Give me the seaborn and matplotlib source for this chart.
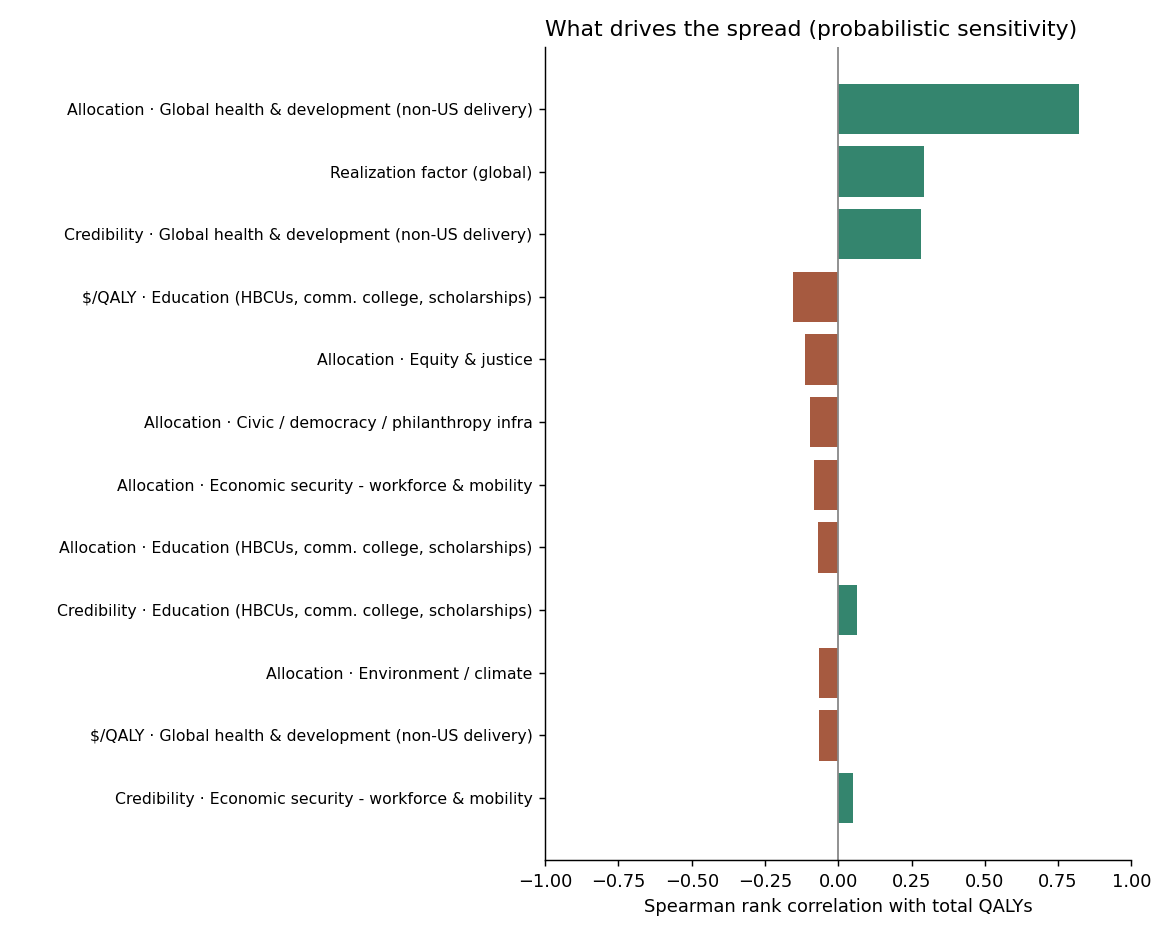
import pandas as pd
import seaborn as sns
import matplotlib
matplotlib.use("Agg")
import matplotlib.pyplot as plt

# Drivers and their rank correlations
drivers = [
    "Allocation · Global health & development (non-US delivery)",
    "Realization factor (global)",
    "Credibility · Global health & development (non-US delivery)",
    "$/QALY · Education (HBCUs, comm. college, scholarships)",
    "Allocation · Equity & justice",
    "Allocation · Civic / democracy / philanthropy infra",
    "Allocation · Economic security - workforce & mobility",
    "Allocation · Education (HBCUs, comm. college, scholarships)",
    "Credibility · Education (HBCUs, comm. college, scholarships)",
    "Allocation · Environment / climate",
    "$/QALY · Global health & development (non-US delivery)",
    "Credibility · Economic security - workforce & mobility",
]
rho = [0.821, 0.292, 0.282, -0.155, -0.114, -0.097, -0.083, -0.069, 0.064, -0.066, -0.066, 0.050]

pos_color = "#34856e"
neg_color = "#a65a40"

df = pd.DataFrame({"driver": drivers, "rho": rho})
df["sign"] = ["pos" if r > 0 else "neg" for r in df["rho"]]

plt.rcParams["font.family"] = ["DejaVu Sans"]

fig, ax = plt.subplots(figsize=(9, 7.2), dpi=130)
fig.subplots_adjust(left=0.466, right=0.967, top=0.950, bottom=0.081)

sns.barplot(data=df, y="driver", x="rho", hue="sign",
            palette={"pos": pos_color, "neg": neg_color},
            dodge=False, legend=False, width=0.8, saturation=1, ax=ax)

ax.axvline(0, color="#888888", linewidth=1)
ax.set_xlim(-1, 1)
ax.set_ylim(len(drivers) - 0.01, -0.99)
ax.set_xlabel("Spearman rank correlation with total QALYs", fontsize=9.9)
ax.set_ylabel("")
ax.tick_params(axis="y", labelsize=8.75)
ax.tick_params(axis="x", labelsize=9.8)
ax.set_title("What drives the spread (probabilistic sensitivity)", loc="left", fontsize=12.1)
sns.despine(ax=ax)

fig.savefig("out.png", dpi=130)
